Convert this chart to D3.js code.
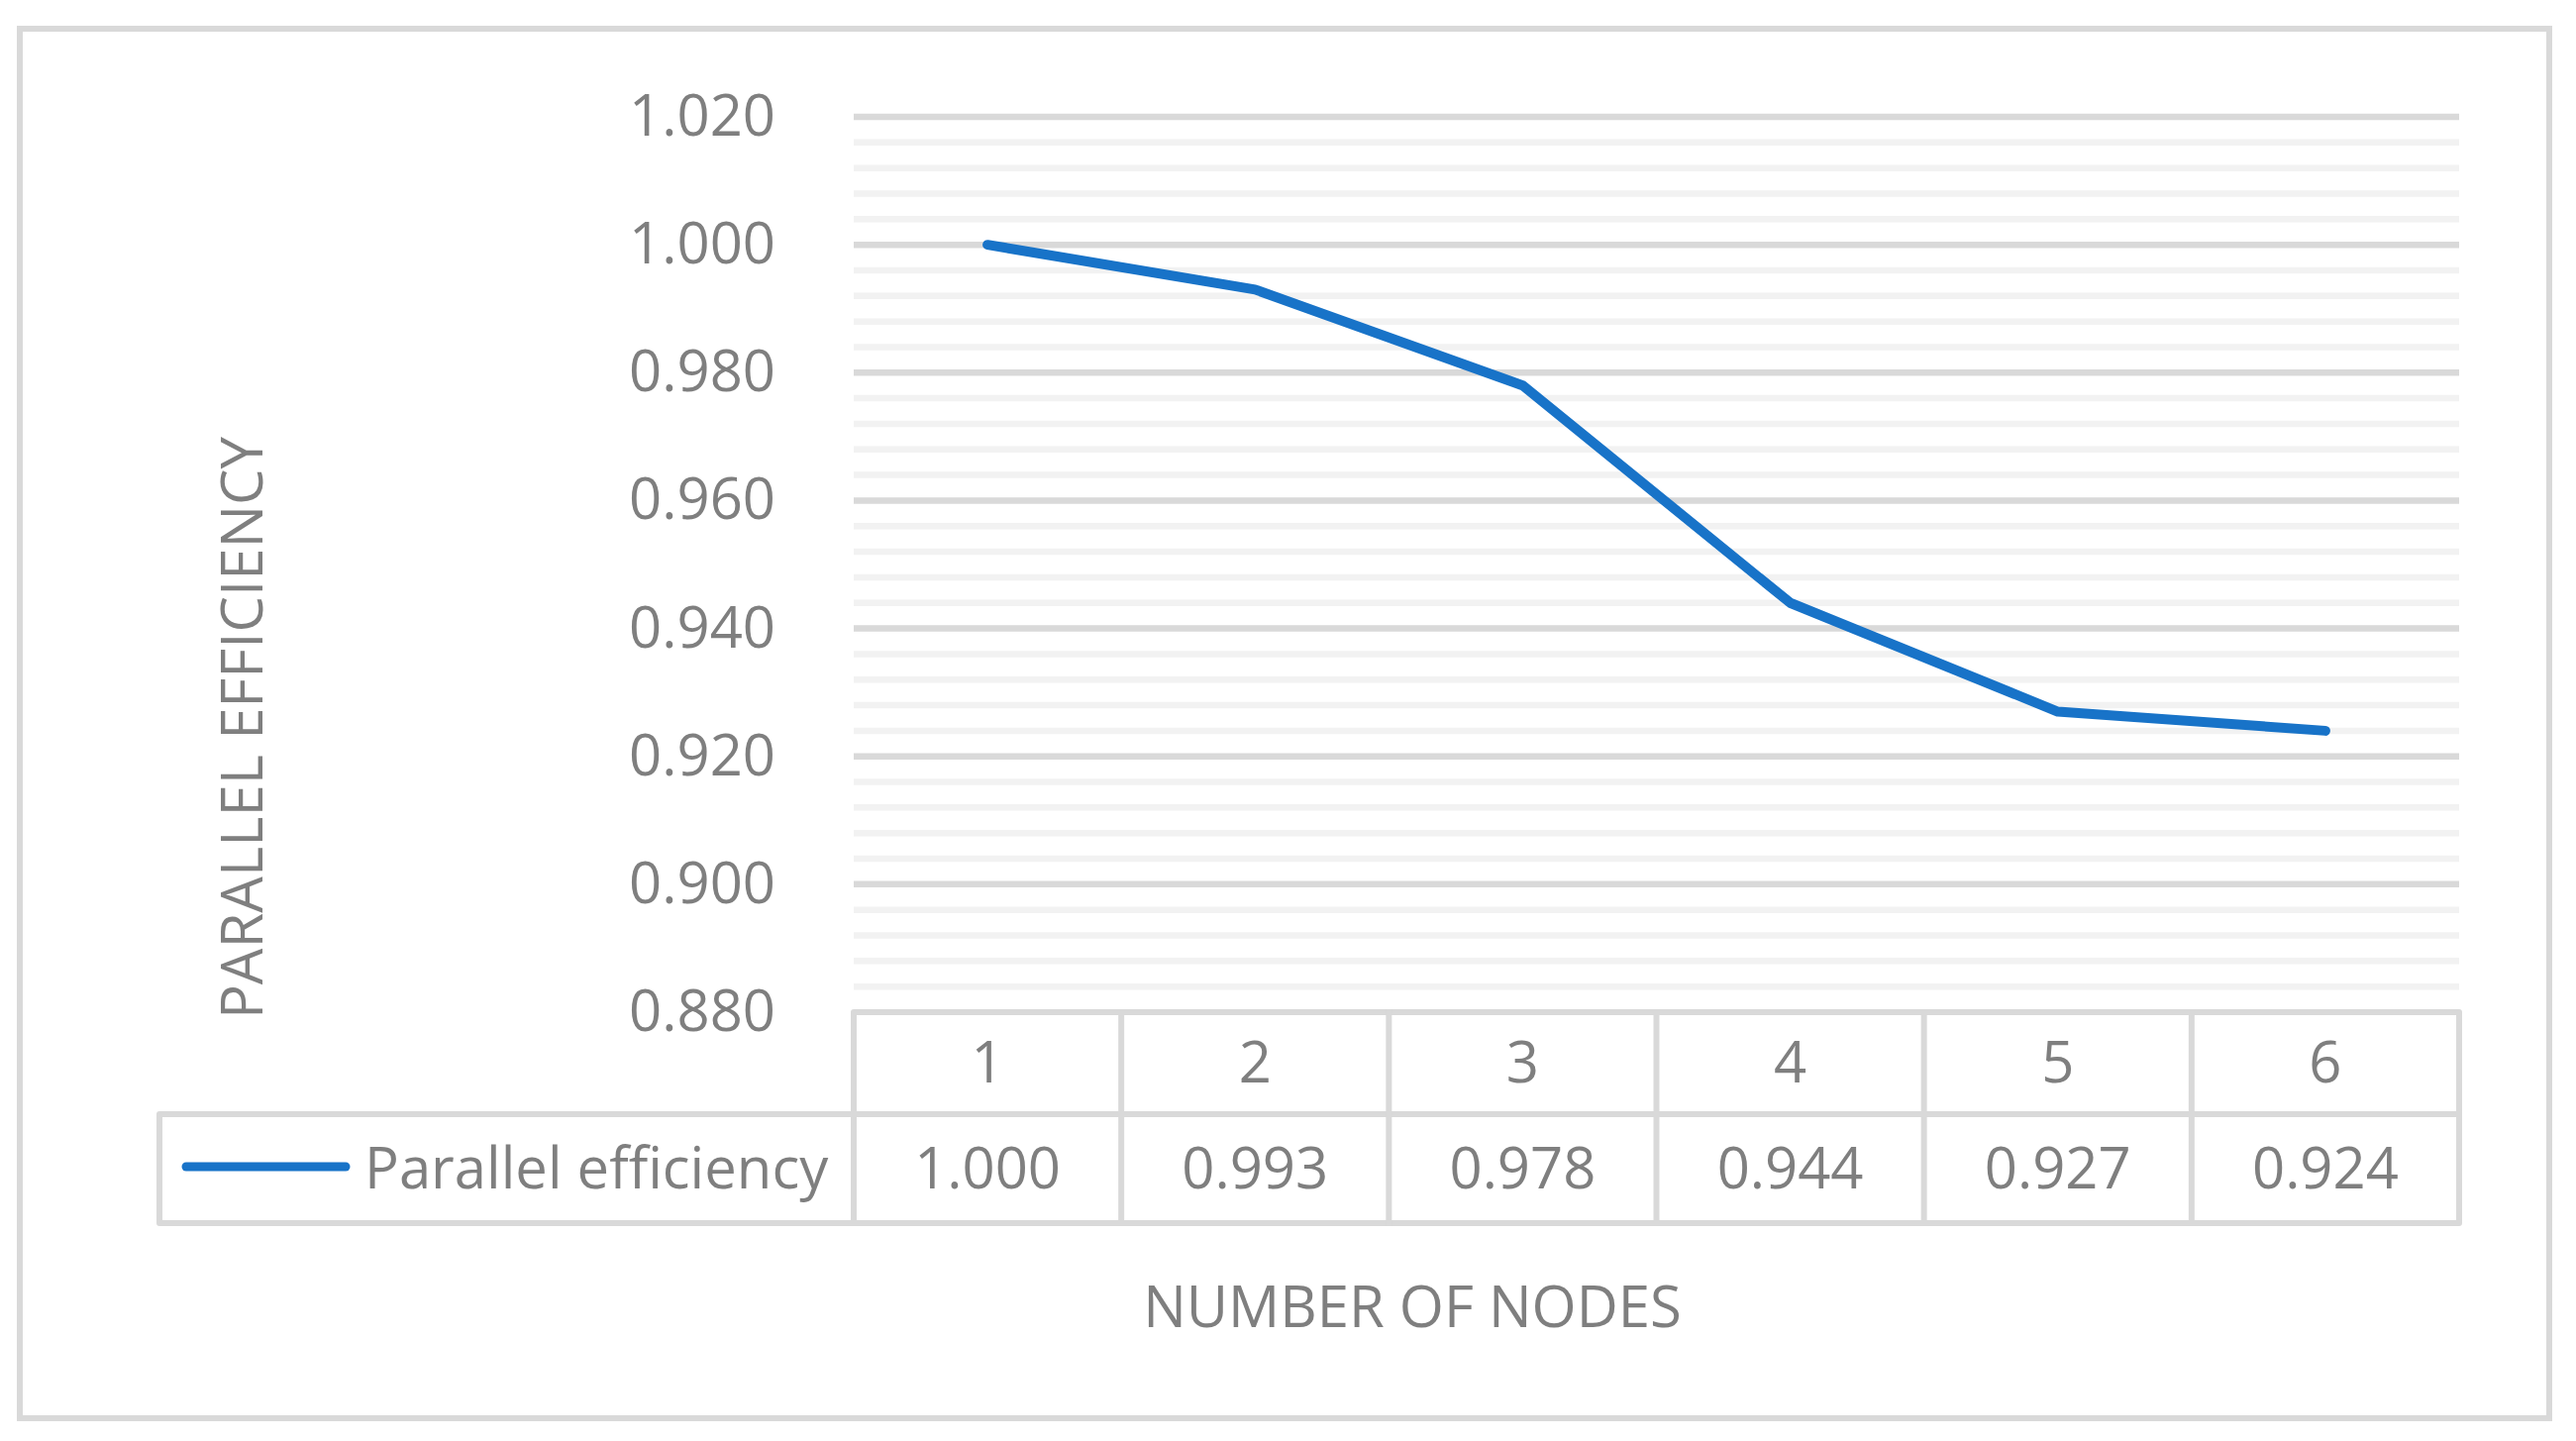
<!DOCTYPE html>
<html>
<head>
<meta charset="utf-8">
<script src="https://cdn.jsdelivr.net/npm/d3@7"></script>
<style>
  html, body { margin: 0; padding: 0; background: #fff; }
  svg { display: block; }
  text { font-family: "Open Sans", "Noto Sans", sans-serif; fill: #7f7f7f; }
</style>
</head>
<body>
<script>
// ---- data ----
const categories = ["1", "2", "3", "4", "5", "6"];
const seriesName = "Parallel efficiency";
const values = [1.000, 0.993, 0.978, 0.944, 0.927, 0.924];
const yTickValues = [0.880, 0.900, 0.920, 0.940, 0.960, 0.980, 1.000, 1.020];
const xTitle = "NUMBER OF NODES";
const yTitle = "PARALLEL EFFICIENCY";

// ---- layout ----
const W = 2601, H = 1455;
const plot = { left: 862, right: 2483, top: 118, bottom: 1022 };
const tableRow1Bottom = 1125, tableBottom = 1235, legendLeft = 161;
const gridCol = "#d9d9d9", minorCol = "#f2f2f2", lineCol = "#1873c8";
const fontSize = 58;

const svg = d3.select("body").append("svg").attr("width", W).attr("height", H);

// outer border
svg.append("rect").attr("x", 20).attr("y", 29).attr("width", 2554).attr("height", 1403)
  .attr("fill", "#fff").attr("stroke", gridCol).attr("stroke-width", 6);

const y = d3.scaleLinear().domain([0.880, 1.020]).range([plot.bottom, plot.top]);
const x = d3.scaleBand().domain(categories).range([plot.left, plot.right]);

// minor gridlines
const minorTicks = d3.range(0.884, 1.0201, 0.004).filter(v => yTickValues.every(t => Math.abs(t - v) > 1e-6));
svg.append("g").selectAll("line").data(minorTicks).join("line")
  .attr("x1", plot.left).attr("x2", plot.right)
  .attr("y1", d => y(d)).attr("y2", d => y(d))
  .attr("stroke", minorCol).attr("stroke-width", 6.5);

// major gridlines
svg.append("g").selectAll("line").data(yTickValues.slice(1)).join("line")
  .attr("x1", plot.left).attr("x2", plot.right)
  .attr("y1", d => y(d)).attr("y2", d => y(d))
  .attr("stroke", gridCol).attr("stroke-width", 6.5);

// y axis labels
const yAxis = d3.axisLeft(y).tickValues(yTickValues).tickFormat(d3.format(".3f")).tickSize(0).tickPadding(79);
const gy = svg.append("g").attr("transform", `translate(${plot.left},0)`).call(yAxis);
gy.select(".domain").remove();
gy.selectAll("text").style("font-size", fontSize + "px").attr("fill", "#7f7f7f")
  .style("font-family", '"Open Sans", "Noto Sans", sans-serif');

// data table
const tbl = svg.append("g").attr("fill", "none").attr("stroke", gridCol).attr("stroke-width", 6)
  .attr("stroke-linejoin", "round").attr("stroke-linecap", "square");
tbl.append("path").attr("d",
  `M${plot.left},${tableRow1Bottom} L${plot.left},${plot.bottom} L${plot.right},${plot.bottom} L${plot.right},${tableBottom} L${legendLeft},${tableBottom} L${legendLeft},${tableRow1Bottom} L${plot.right},${tableRow1Bottom}`);
tbl.selectAll("line.col").data(categories.slice(1)).join("line").attr("class", "col")
  .attr("x1", d => x(d)).attr("x2", d => x(d))
  .attr("y1", plot.bottom).attr("y2", tableBottom);
tbl.append("line").attr("x1", plot.left).attr("x2", plot.left).attr("y1", tableRow1Bottom).attr("y2", tableBottom);

// category labels
svg.append("g").selectAll("text").data(categories).join("text")
  .attr("x", d => x(d) + x.bandwidth() / 2)
  .attr("y", (plot.bottom + tableRow1Bottom) / 2 - 3)
  .attr("text-anchor", "middle").attr("dominant-baseline", "central")
  .style("font-size", fontSize + "px").text(d => d);

// value labels
svg.append("g").selectAll("text").data(values).join("text")
  .attr("x", (d, i) => x(categories[i]) + x.bandwidth() / 2)
  .attr("y", (tableRow1Bottom + tableBottom) / 2 - 3)
  .attr("text-anchor", "middle").attr("dominant-baseline", "central")
  .style("font-size", fontSize + "px").text(d => d3.format(".3f")(d));

// legend key
svg.append("line").attr("x1", 188).attr("x2", 349).attr("y1", 1178).attr("y2", 1178)
  .attr("stroke", lineCol).attr("stroke-width", 9).attr("stroke-linecap", "round");
svg.append("text").attr("x", 368).attr("y", 1177)
  .attr("dominant-baseline", "central")
  .style("font-size", fontSize + "px").text(seriesName);

// series line
const line = d3.line().x((d, i) => x(categories[i]) + x.bandwidth() / 2).y(d => y(d));
svg.append("path").datum(values).attr("d", line)
  .attr("fill", "none").attr("stroke", lineCol).attr("stroke-width", 10)
  .attr("stroke-linejoin", "round").attr("stroke-linecap", "round");

// axis titles
svg.append("text").attr("x", 1426).attr("y", 1317)
  .attr("text-anchor", "middle").attr("dominant-baseline", "central")
  .style("font-size", fontSize + "px").text(xTitle);
svg.append("text").attr("transform", "translate(242,735) rotate(-90)")
  .attr("text-anchor", "middle").attr("dominant-baseline", "central")
  .style("font-size", fontSize + "px").text(yTitle);
</script>
</body>
</html>
